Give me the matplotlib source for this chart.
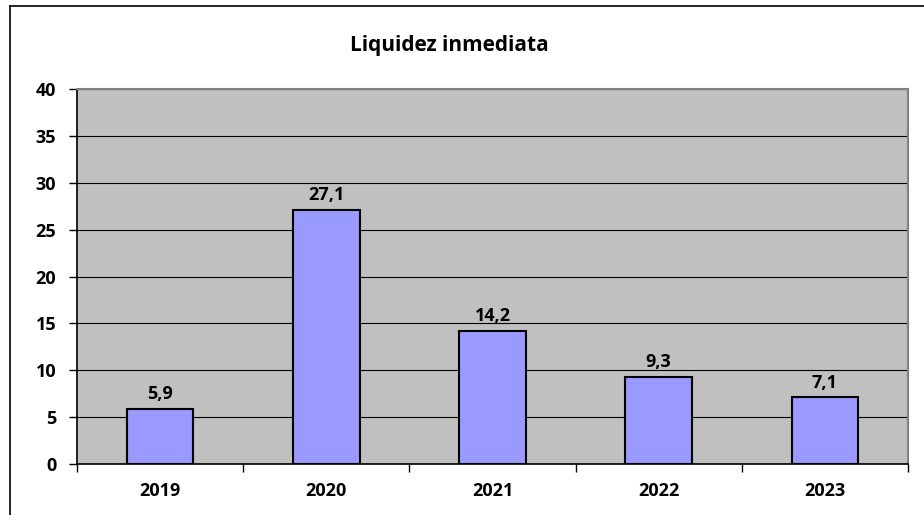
import matplotlib.pyplot as plt
from matplotlib.lines import Line2D

years = ["2019", "2020", "2021", "2022", "2023"]
values = [5.9, 27.1, 14.2, 9.3, 7.1]
labels = ["5,9", "27,1", "14,2", "9,3", "7,1"]
yticks = [0, 5, 10, 15, 20, 25, 30, 35, 40]

plt.rcParams["font.family"] = ["Open Sans", "DejaVu Sans"]
plt.rcParams["font.weight"] = "bold"

fig = plt.figure(figsize=(9.24, 5.15), dpi=100)
ax = fig.add_axes([77 / 924, 1 - 464 / 515, 831 / 924, 375 / 515])

# outer chart border (left and top only visible)
fig.add_artist(Line2D([10 / 924, 10 / 924], [0, 1 - 6 / 515], color="black", lw=1.2))
fig.add_artist(Line2D([10 / 924, 1], [1 - 6 / 515, 1 - 6 / 515], color="black", lw=1.2))

ax.set_facecolor("#C0C0C0")
x = range(len(years))
ax.bar(x, values, width=0.4, color="#9999FF", edgecolor="black", linewidth=1.5, zorder=3)

for i, v in enumerate(values):
    ax.text(i, v + 0.6, labels[i], ha="center", va="bottom", fontsize=13, fontweight="bold")

ax.set_xlim(-0.5, len(years) - 0.5)
ax.set_ylim(0, 40)
ax.set_yticks(yticks)
ax.set_yticklabels([str(t) for t in yticks], fontsize=13, fontweight="bold")
ax.yaxis.grid(True, color="black", linewidth=0.8, zorder=1)
ax.set_axisbelow(True)

ax.set_xticks(x)
ax.set_xticklabels(years, fontsize=13, fontweight="bold")
ax.tick_params(axis="x", length=0, pad=13)
ax.set_xticks([i - 0.5 for i in range(len(years) + 1)], minor=True)
ax.tick_params(axis="x", which="minor", length=6, width=1, direction="out")
ax.tick_params(axis="y", length=6, width=1, direction="out", pad=9)

ax.spines["left"].set_color("black")
ax.spines["bottom"].set_color("black")
ax.spines["left"].set_linewidth(1.2)
ax.spines["bottom"].set_linewidth(1.2)
ax.spines["top"].set_color("#808080")
ax.spines["right"].set_color("#808080")
ax.spines["top"].set_linewidth(1.5)
ax.spines["right"].set_linewidth(1.5)

fig.text(449 / 924, 1 - 45 / 515, "Liquidez inmediata", ha="center", va="center",
         fontsize=15, fontweight="bold")

plt.savefig("out.png", dpi=100)
plt.close()
